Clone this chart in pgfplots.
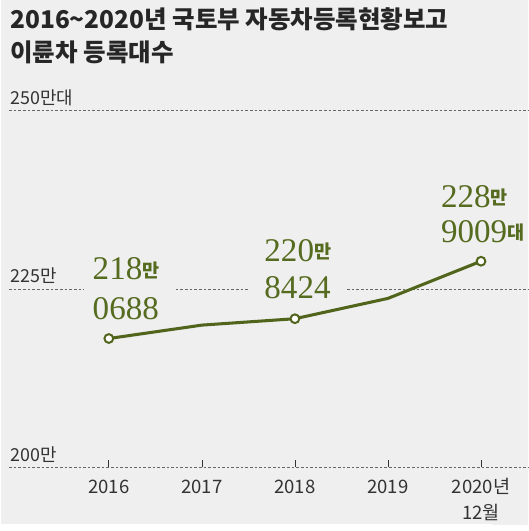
\documentclass[border=0pt]{standalone}
\usepackage{fontspec}
\usepackage{pgfplots}
\pgfplotsset{compat=1.18}
\setmainfont{Noto Sans CJK KR}
\newfontfamily\kr{Noto Sans CJK KR}
\newfontfamily\sr{Liberation Serif}
\definecolor{bg}{HTML}{EFEFEF}
\definecolor{olive}{HTML}{556B1F}
\definecolor{oline}{HTML}{50651B}
\definecolor{txt}{HTML}{333333}
\newcommand{\num}[1]{{\sr\fontsize{25}{25}\selectfont #1}}
\newcommand{\unit}[1]{{\kr\bfseries\fontsize{14}{14}\selectfont\raisebox{2pt}{#1}}}

\begin{document}
\begin{tikzpicture}[x=0.75pt,y=-0.75pt]
\fill[bg] (0,0) rectangle (531,528);
\shade[left color=bg, right color=black!6] (495,0) rectangle (531,528);

\begin{axis}[at={(6pt,-83.625pt)}, anchor=north west, scale only axis,
    width=392.25pt, height=269.6pt,
    xmin=2014.928, xmax=2020.507, ymin=200, ymax=250,
    axis line style={draw=none},
    xtick={2016,2017,2018,2019,2020}, ytick={200,225,250},
    xticklabels={2016,2017,2018,2019,{\begin{tabular}[t]{@{}c@{}}2020년\\12월\end{tabular}}},
    yticklabels={},
    xtick pos=lower, tick align=inside, major tick length=6pt,
    x tick style={txt, line width=0.5pt}, y tick style={draw=none},
    xticklabel style={anchor=base, yshift=-20pt,
        font=\fontsize{14}{19}\selectfont, text=txt},
    ymajorgrids, grid style={dash pattern=on 2pt off 1.5pt, txt!75, line width=0.6pt},
    clip=false]
\addplot[oline, line width=2.3pt, mark=*, mark indices={1,3,5},
    mark size=3.3pt, mark options={fill=white, draw=oline, line width=1.5pt}]
    coordinates {(2016,218.0688) (2017,219.9461) (2018,220.8424) (2019,223.6895) (2020,228.9009)};
\end{axis}

% gaps in the 225 gridline behind the value labels
\fill[bg] (83,286) rectangle (176,296);
\fill[bg] (250,286) rectangle (347,296);

% title
\node[anchor=base west, inner sep=0, text=black!85, font=\bfseries\fontsize{18.5}{18.5}\selectfont]
    at (9,28.5) {2016\char"007E 2020년 국토부 자동차등록현황보고};
\node[anchor=base west, inner sep=0, text=black!85, font=\bfseries\fontsize{18.5}{18.5}\selectfont]
    at (9,62) {이륜차 등록대수};

% y labels
\node[anchor=base west, inner sep=0, text=txt, font=\fontsize{13.5}{13.5}\selectfont] at (9,105) {250만대};
\node[anchor=base west, inner sep=0, text=txt, font=\fontsize{13.5}{13.5}\selectfont] at (9,285) {225만};
\node[anchor=base west, inner sep=0, text=txt, font=\fontsize{13.5}{13.5}\selectfont] at (9,465) {200만};

% value labels
\node[anchor=base west, inner sep=0, text=olive] at (92,282) {\num{218}\unit{만}};
\node[anchor=base west, inner sep=0, text=olive] at (92,322) {\num{0688}};
\node[anchor=base west, inner sep=0, text=olive] at (265,263) {\num{220}\unit{만}};
\node[anchor=base west, inner sep=0, text=olive] at (265,301) {\num{8424}};
\node[anchor=base west, inner sep=0, text=olive] at (443,209) {\num{228}\unit{만}};
\node[anchor=base west, inner sep=0, text=olive] at (443,244) {\num{9009}\unit{대}};
\end{tikzpicture}
\end{document}
